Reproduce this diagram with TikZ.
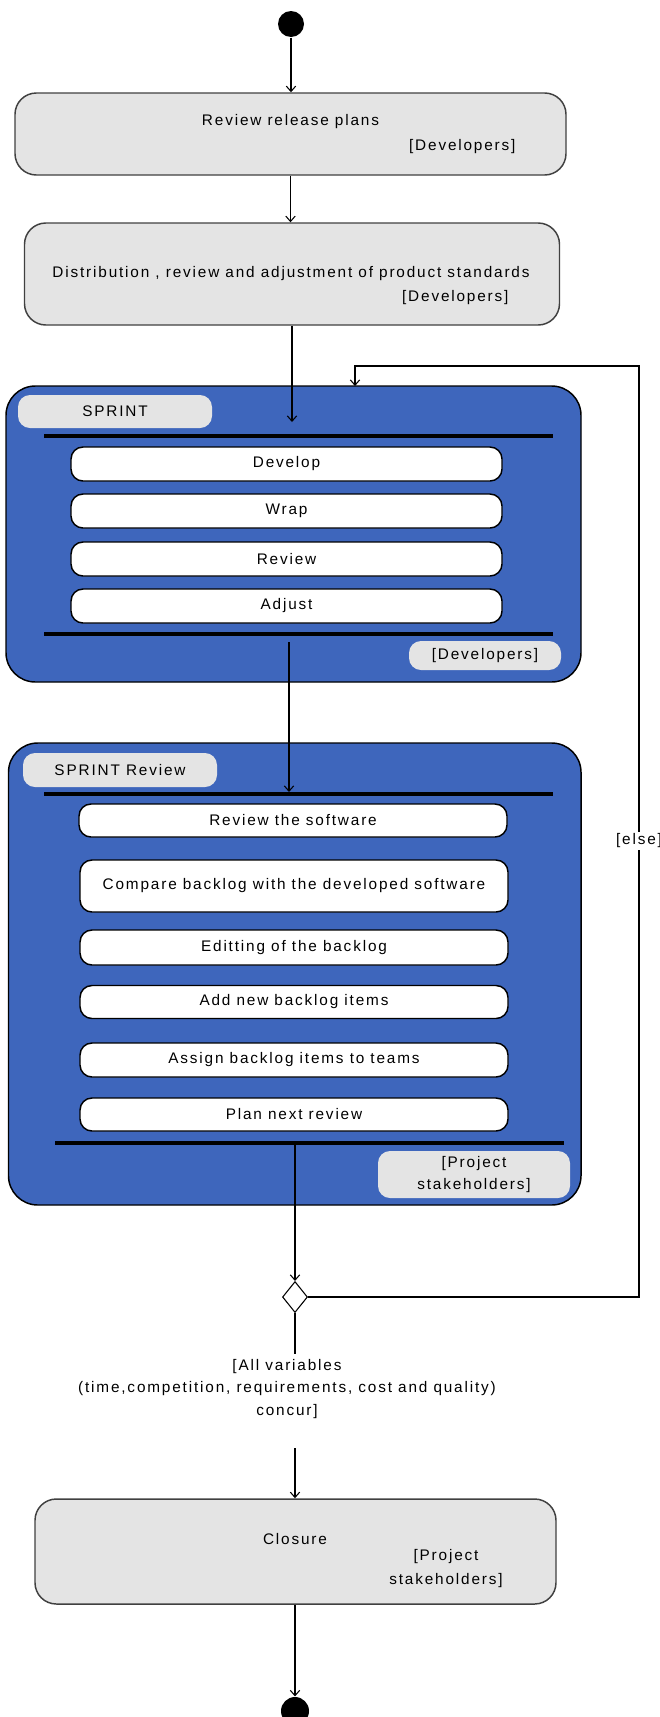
\documentclass[tikz,border=0pt]{standalone}
\usepackage{fontspec}
\newfontfamily\diafont{Liberation Sans}[LetterSpace=12]
\usetikzlibrary{calc}
\usetikzlibrary{positioning}
\usetikzlibrary{arrows.meta}
\usetikzlibrary{shapes.geometric}
\definecolor{sprintblue}{RGB}{62,102,188}
\definecolor{boxgray}{RGB}{228,228,228}

\begin{document}
\begin{tikzpicture}[->, >={Straight Barb[length=4pt,width=7pt]}, line width=0.8pt, x=0.75pt, y=-0.75pt, font=\diafont\fontsize{11.5}{17}\selectfont]
    \tikzstyle{dot}=[circle,fill=black,minimum size=19.5pt,inner sep=0pt]
    \tikzstyle{state}=[draw=black!75,fill=boxgray,rectangle,rounded corners=16pt,line width=1.1pt]
    \tikzstyle{region}=[draw=black,fill=sprintblue,rectangle,rounded corners=22pt,line width=1.1pt]
    \tikzstyle{tag}=[fill=boxgray,rectangle,rounded corners=9pt,inner sep=0pt,align=center]
    \tikzstyle{task}=[draw=black,fill=white,rectangle,rounded corners=9pt,line width=1.1pt,inner sep=0pt]
    \tikzstyle{bar}=[fill=black,rectangle,minimum height=2.6pt,inner sep=0pt]
    \tikzstyle{word}=[inner sep=0pt,align=center]
    \path[use as bounding box] (0,0) rectangle (660,1717);

	% initial state and the two preparation states
	\node[dot] (start) at (291,24) {};
	\node[state, minimum width=413.25pt, minimum height=61.5pt] (plans) at (290.5,134) {};
	\node[word] at (290.5,122) {Review release plans};
	\node[word, anchor=east] at (516,147) {[Developers]};
	\node[state, minimum width=401.25pt, minimum height=76.5pt] (standards) at (292,274) {};
	\node[word] at (291,274) {Distribution , review and adjustment of product standards};
	\node[word, anchor=east] at (509,298) {[Developers]};

	% sprint
	\node[region, minimum width=431.25pt, minimum height=222pt] (sprint) at (293.5,534) {};
	\node[tag, minimum width=145.5pt, minimum height=24.75pt] (sprinttag) at (115,411.5) {SPRINT};
	\node[bar, minimum width=381.4pt] (sbar1) at (298.75,436) {};
	\node[task, minimum width=323.25pt, minimum height=25.5pt] (develop) at (286.5,464) {Develop};
	\node[task, minimum width=323.25pt, minimum height=25.5pt] (wrap) at (286.5,511) {Wrap};
	\node[task, minimum width=323.25pt, minimum height=25.5pt] (review) at (286.5,559) {Review};
	\node[task, minimum width=323.25pt, minimum height=25.5pt] (adjust) at (286.5,606) {Adjust};
	\node[bar, minimum width=381.4pt] (sbar2) at (298.75,634) {};
	\node[tag, minimum width=114pt, minimum height=21.75pt] (devtag) at (485,655.5) {[Developers]};

	% sprint review
	\node[region, minimum width=429.4pt, minimum height=346.5pt] (sreview) at (294.75,974) {};
	\node[tag, minimum width=145.5pt, minimum height=25.5pt] (reviewtag) at (120,770) {SPRINT Review};
	\node[bar, minimum width=381.4pt, minimum height=3pt] (rbar1) at (298.75,794) {};
	\node[task, minimum width=321pt, minimum height=24.75pt] (software) at (293,820.5) {Review the software};
	\node[task, minimum width=321pt, minimum height=39pt] (compare) at (294,886) {Compare backlog with the developed software};
	\node[task, minimum width=321pt, minimum height=26.25pt] (editing) at (294,947.5) {Editting of the backlog};
	\node[task, minimum width=321pt, minimum height=24.75pt] (additems) at (294,1002) {Add new backlog items};
	\node[task, minimum width=321pt, minimum height=25.5pt] (assign) at (294,1060) {Assign backlog items to teams};
	\node[task, minimum width=321pt, minimum height=24.75pt] (plan) at (294,1114.5) {Plan next review};
	\node[bar, minimum width=381.75pt, minimum height=3pt] (rbar2) at (309.5,1143) {};
	\node[tag, minimum width=144pt, minimum height=35.25pt] (holdtag) at (474,1174.5) {[Project\\stakeholders]};

	% decision, closure and final state
	\node[draw=black, diamond, fill=white, minimum width=18.75pt, minimum height=23.25pt, inner sep=0pt] (dec) at (295,1297) {};
	\node[word, font=\diafont\fontsize{11.5}{16.9}\selectfont] (cond) at (287,1389) {[All variables\\(time,competition, requirements, cost and quality)\\concur]};
	\node[state, minimum width=390.75pt, minimum height=78.75pt] (closure) at (295.5,1551.5) {};
	\node[word] at (295,1539) {Closure};
	\node[word, font=\diafont\fontsize{11.5}{18}\selectfont] at (446,1569) {[Project\\stakeholders]};
	\node[dot, minimum size=21pt] (end) at (295,1711) {};

	\coordinate (sprintin) at (292,422);
	\coordinate (sprintout) at (289,642);
	\coordinate (reviewin) at (289,792);
	\coordinate (reviewout) at (295,1145);
	\coordinate (condin) at (295,1354);
	\coordinate (condout) at (295,1448);
	\coordinate (looptop) at (639,366);
	\coordinate (loopin) at (355,386);

    \draw (start) -- (start |- plans.north);
    \draw (plans.south) -- (plans.south |- standards.north);
    \draw (standards.south) -- (sprintin);
    \draw (sprintout) -- (reviewin);
    \draw (reviewout) -- (dec.north);
    \draw[-] (dec.south) -- (condin);
    \draw (condout) -- (condout |- closure.north);
    \draw (condout |- closure.south) -- (end.north);
    \draw (dec.east) -- (dec.east -| looptop) -- node[pos=0.49, fill=white, inner sep=1.5pt] {[else]} (looptop) -| (loopin);
\end{tikzpicture}
\end{document}
